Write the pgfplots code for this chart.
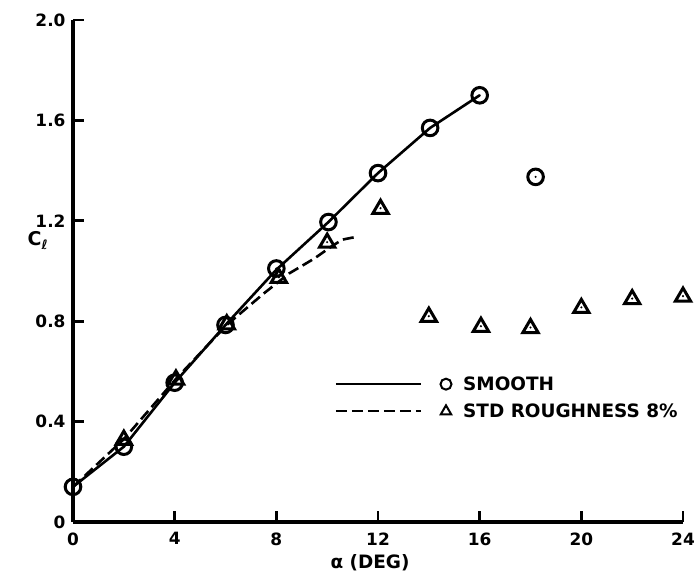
\documentclass[border=0pt]{standalone}
\usepackage{pgfplots}
\pgfplotsset{compat=1.18}
\usepackage{fontspec}
\setmainfont{DejaVu Sans}

% open circle with a centre dot
\pgfdeclareplotmark{dotcircle}{%
  \pgfpathcircle{\pgfpointorigin}{\pgfplotmarksize}\pgfusepathqstroke
  \pgfpathcircle{\pgfpointorigin}{1.2bp}\pgfusepathqfill}
% open triangle with a centre dot
\pgfdeclareplotmark{dottriangle}{%
  \pgfpathmoveto{\pgfqpoint{0pt}{1.1\pgfplotmarksize}}%
  \pgfpathlineto{\pgfqpoint{-1.05\pgfplotmarksize}{-0.7\pgfplotmarksize}}%
  \pgfpathlineto{\pgfqpoint{1.05\pgfplotmarksize}{-0.7\pgfplotmarksize}}%
  \pgfpathclose\pgfusepathqstroke
  \pgfpathcircle{\pgfpointorigin}{1.2bp}\pgfusepathqfill}

\begin{document}
\begin{tikzpicture}[x=1bp,y=1bp]
\useasboundingbox (-73,-54) rectangle (624,522);
\begin{axis}[
  at={(0,0)}, anchor=origin,
  scale only axis, width=610bp, height=502bp,
  xmin=0, xmax=24, ymin=0, ymax=2,
  clip=false,
  axis lines=left,
  axis line style={line width=4bp, -},
  tick align=inside,
  major tick length=11bp,
  tick style={line width=2.8bp, black},
  xtick={0,4,...,24},
  ytick={0,0.4,0.8,1.2,1.6,2.0},
  yticklabels={0\hspace{10bp},0.4,0.8,1.2,1.6,2.0},
  /pgf/number format/assume math mode=true,
  every tick label/.style={font=\bfseries\fontsize{17}{19}\selectfont},
  xticklabel style={yshift=-7bp},
  yticklabel style={xshift=-4bp},
  xlabel={α (DEG)},
  xlabel style={font=\bfseries\fontsize{18.5}{20}\selectfont, at={(rel axis cs:0.487,-0.082)}, anchor=center},
  ylabel={C\raisebox{-4bp}{\fontsize{13}{13}\selectfont ℓ}},
  ylabel style={font=\bfseries\fontsize{19}{21}\selectfont, rotate=-90, at={(rel axis cs:-0.058,0.56)}, anchor=center},
  legend style={draw=none, fill=none, at={(axis cs:10.3,0.495)}, anchor=west,
    font=\bfseries\fontsize{18.5}{20}\selectfont, row sep=10bp, inner sep=0pt,
    nodes={inner sep=1bp}},
  legend cell align=left,
]
% smooth airfoil: faired curve
\addplot[line width=2.6bp, black, forget plot] coordinates {
  (0,0.14) (2,0.30) (4.0,0.555) (6.0,0.785) (8.0,1.005) (10.05,1.195)
  (12.0,1.39) (14.05,1.57) (16.0,1.70)};
% smooth airfoil: measured points
\addplot[only marks, mark=dotcircle, mark size=7.8bp, line width=3bp, black, forget plot] coordinates {
  (0,0.14) (2,0.30) (4.0,0.555) (6.0,0.785) (8.0,1.01) (10.05,1.195)
  (12.0,1.39) (14.05,1.57) (16.0,1.70) (18.2,1.375)};
% standard roughness: faired curve
\addplot[line width=2.6bp, black, dash pattern=on 11bp off 5bp, forget plot] coordinates {
  (0,0.14) (2,0.33) (4.05,0.57) (6.05,0.785) (7.5,0.91) (8.5,0.99)
  (9.5,1.05) (10.2,1.10) (10.6,1.125) (11.1,1.135)};
% standard roughness: measured points
\addplot[only marks, mark=dottriangle, mark size=7.3bp, line width=3bp, black, forget plot] coordinates {
  (2,0.33) (4.05,0.57) (6.05,0.79) (8.1,0.975) (10.0,1.115) (12.1,1.25)
  (14.0,0.82) (16.05,0.78) (18.0,0.775) (20.0,0.855) (22.0,0.89) (24.0,0.90)};

\addlegendimage{legend image code/.code={
  \draw[line width=2bp, solid] (0bp,0bp) -- (85bp,0bp);
  \draw[only marks, mark=o, mark size=5.5bp, line width=2bp, solid] plot coordinates {(110bp,0bp)};
  \path (126bp,0bp);}}
\addlegendentry{SMOOTH}
\addlegendimage{legend image code/.code={
  \draw[line width=2bp, dash pattern=on 11bp off 5bp] (0bp,0bp) -- (85bp,0bp);
  \draw[only marks, mark=triangle, mark size=6bp, line width=2bp, solid] plot coordinates {(110bp,0bp)};
  \path (126bp,0bp);}}
\addlegendentry{STD ROUGHNESS 8\%}
\end{axis}
\end{tikzpicture}
\end{document}
